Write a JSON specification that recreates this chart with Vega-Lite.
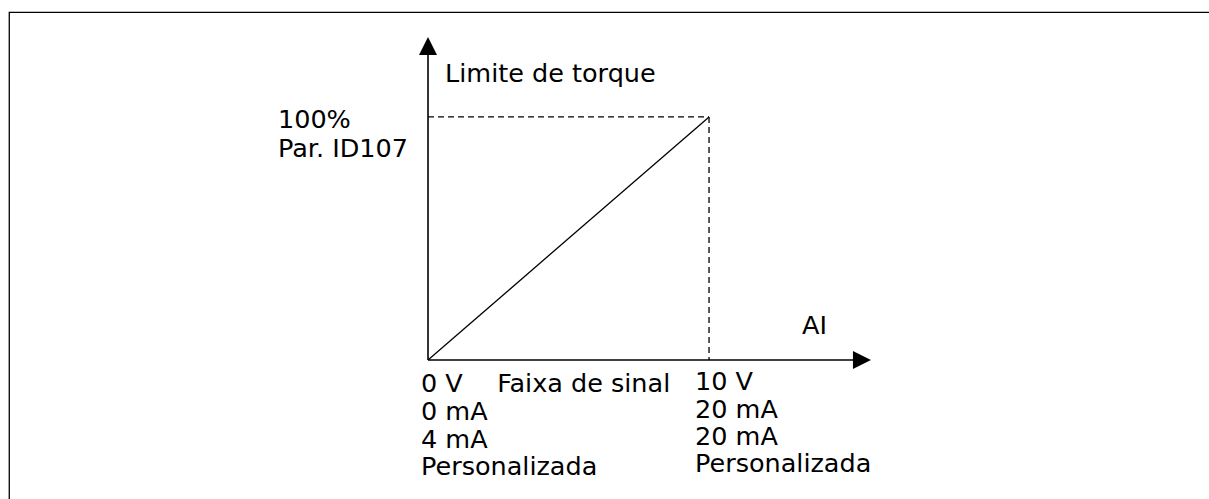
{
  "$schema": "https://vega.github.io/schema/vega-lite/v6.json",
  "width": 1209,
  "height": 499,
  "autosize": "none",
  "padding": 0,
  "background": "white",
  "config": {"view": {"stroke": null}},
  "datasets": {
    "frame": [{"x": -149.0, "y": 143.0, "x2": 320, "y2": -90}],
    "axes": [
      {"x": 0, "y": 0, "x2": 0, "y2": 127},
      {"x": 0, "y": 0, "x2": 152, "y2": 0}
    ],
    "guides": [
      {"x": 0, "y": 100, "x2": 100, "y2": 100},
      {"x": 100, "y": 100, "x2": 100, "y2": 0}
    ],
    "curve": [{"signal": 0, "torque": 0}, {"signal": 100, "torque": 100}],
    "arrowUp": [{"x": 0, "y": 129.2}],
    "arrowRight": [{"x": 154.4, "y": 0}],
    "labels": [
      {"x": 6.05, "y": 114.4, "text": "Limite de torque"},
      {"x": -53.4, "y": 95.5, "text": "100%"},
      {"x": -53.4, "y": 83.5, "text": "Par. ID107"},
      {"x": 133.1, "y": 10.7, "text": "AI"},
      {"x": -2.5, "y": -13.2, "text": "0 V"},
      {"x": 24.6, "y": -13.2, "text": "Faixa de sinal"},
      {"x": -2.5, "y": -24.7, "text": "0 mA"},
      {"x": -2.5, "y": -36.2, "text": "4 mA"},
      {"x": -2.5, "y": -47.3, "text": "Personalizada"},
      {"x": 95.0, "y": -12.3, "text": "10 V"},
      {"x": 95.0, "y": -23.9, "text": "20 mA"},
      {"x": 95.0, "y": -35.0, "text": "20 mA"},
      {"x": 95.0, "y": -46.1, "text": "Personalizada"}
    ]
  },
  "layer": [
    {
      "data": {"name": "frame"},
      "mark": {"type": "rect", "fill": null, "filled": false, "stroke": "black", "strokeWidth": 1.3},
      "encoding": {
        "x": {"field": "x", "type": "quantitative", "scale": {"domain": [-152.3, 277.9], "nice": false, "zero": false}, "axis": null},
        "y": {"field": "y", "type": "quantitative", "scale": {"domain": [-57.2, 148.1], "nice": false, "zero": false}, "axis": null},
        "x2": {"field": "x2"},
        "y2": {"field": "y2"}
      }
    },
    {
      "data": {"name": "axes"},
      "mark": {"type": "rule", "color": "black", "strokeWidth": 1.6},
      "encoding": {
        "x": {"field": "x", "type": "quantitative"},
        "y": {"field": "y", "type": "quantitative"},
        "x2": {"field": "x2"},
        "y2": {"field": "y2"}
      }
    },
    {
      "data": {"name": "guides"},
      "mark": {"type": "rule", "color": "black", "strokeWidth": 1.3, "strokeDash": [6, 4]},
      "encoding": {
        "x": {"field": "x", "type": "quantitative"},
        "y": {"field": "y", "type": "quantitative"},
        "x2": {"field": "x2"},
        "y2": {"field": "y2"}
      }
    },
    {
      "data": {"name": "curve"},
      "mark": {"type": "line", "color": "black", "strokeWidth": 1.3},
      "encoding": {
        "x": {"field": "signal", "type": "quantitative"},
        "y": {"field": "torque", "type": "quantitative"}
      }
    },
    {
      "data": {"name": "arrowUp"},
      "mark": {"type": "point", "shape": "M0,-1L1,1L-1,1Z", "filled": true, "color": "black", "opacity": 1, "size": 324, "strokeWidth": 0},
      "encoding": {
        "x": {"field": "x", "type": "quantitative"},
        "y": {"field": "y", "type": "quantitative"}
      }
    },
    {
      "data": {"name": "arrowRight"},
      "mark": {"type": "point", "shape": "M1,0L-1,-1L-1,1Z", "filled": true, "color": "black", "opacity": 1, "size": 324, "strokeWidth": 0},
      "encoding": {
        "x": {"field": "x", "type": "quantitative"},
        "y": {"field": "y", "type": "quantitative"}
      }
    },
    {
      "data": {"name": "labels"},
      "mark": {"type": "text", "align": "left", "baseline": "alphabetic", "font": "DejaVu Sans", "fontSize": 25.5, "color": "black"},
      "encoding": {
        "x": {"field": "x", "type": "quantitative"},
        "y": {"field": "y", "type": "quantitative"},
        "text": {"field": "text"}
      }
    }
  ]
}
